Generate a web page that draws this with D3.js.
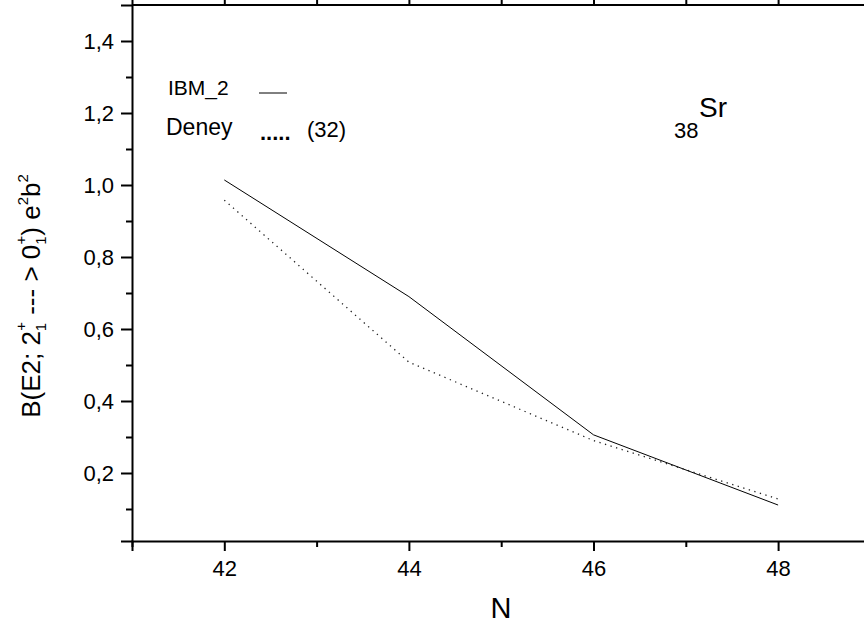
<!DOCTYPE html>
<html>
<head>
<meta charset="utf-8">
<script src="https://cdn.jsdelivr.net/npm/d3@7"></script>
<style>
  html, body { margin: 0; padding: 0; background: #fff; }
  text { font-family: Arial, "Liberation Sans", sans-serif; fill: #000; }
</style>
</head>
<body>
<svg id="chart" width="864" height="628"></svg>
<script>
// ---- data ----
const neutronN = [42, 44, 46, 48];
const ibm2 = [1.014, 0.69, 0.306, 0.111];
const deney = [0.958, 0.508, 0.29, 0.128];
const xMajorTicks = [42, 44, 46, 48];
const xMinorTicks = [41, 43, 45, 47, 49];
const yMajorTicks = [0.2, 0.4, 0.6, 0.8, 1.0, 1.2, 1.4];
const yMinorTicks = [0.1, 0.3, 0.5, 0.7, 0.9, 1.1, 1.3];
const legendLabels = ["IBM_2", "Deney"];

const svg = d3.select("#chart");
const x = d3.scaleLinear().domain([41, 49]).range([132, 870.4]);
const y = d3.scaleLinear().domain([0.0111, 1.5]).range([541, 5]);
const fmt = v => d3.format(".1f")(v).replace(".", ",");

// frame: top border
svg.append("line").attr("x1", x(41)).attr("x2", 864).attr("y1", y(1.5)).attr("y2", y(1.5))
  .attr("stroke", "#000").attr("stroke-width", 2);

// bottom axis
const gx = svg.append("g").attr("transform", `translate(0,${y.range()[0]})`);
gx.call(d3.axisBottom(x).tickValues(xMajorTicks).tickSize(10).tickPadding(9).tickFormat(d3.format("d")));
const gxm = svg.append("g").attr("transform", `translate(0,${y.range()[0]})`);
gxm.call(d3.axisBottom(x).tickValues(xMinorTicks).tickSize(6).tickFormat(""));
// top axis ticks
const gt = svg.append("g").attr("transform", `translate(0,${y.range()[1]})`);
gt.call(d3.axisTop(x).tickValues(xMajorTicks.concat(xMinorTicks)).tickSize(5).tickFormat(""));
gt.select(".domain").remove();

// left axis
const gy = svg.append("g").attr("transform", `translate(${x.range()[0]},0)`);
gy.call(d3.axisLeft(y).tickValues(yMajorTicks).tickSize(11).tickPadding(7).tickFormat(fmt));
const gym = svg.append("g").attr("transform", `translate(${x.range()[0]},0)`);
gym.call(d3.axisLeft(y).tickValues(yMinorTicks).tickSize(6).tickFormat(""));

svg.selectAll(".domain").attr("stroke", "#000").attr("stroke-width", 2);
svg.selectAll(".tick line").attr("stroke", "#000").attr("stroke-width", 2);
svg.selectAll(".tick text").attr("font-size", 22).attr("font-family", "Arial, 'Liberation Sans', sans-serif").attr("fill", "#000");
gym.select(".domain").remove(); gxm.select(".domain").remove();

// lines
const line = d3.line().x((d, i) => x(neutronN[i])).y(d => y(d));
svg.append("path").datum(ibm2).attr("d", line).attr("fill", "none")
  .attr("stroke", "#000").attr("stroke-width", 1);
svg.append("path").datum(deney).attr("d", line).attr("fill", "none")
  .attr("stroke", "#222").attr("stroke-width", 1.3).attr("stroke-dasharray", "1.3,4.5");

// legend
svg.append("text").attr("x", 168).attr("y", 95).attr("font-size", 21).text(legendLabels[0]);
svg.append("line").attr("x1", 259).attr("x2", 287).attr("y1", 93).attr("y2", 93)
  .attr("stroke", "#000").attr("stroke-width", 1);
svg.append("text").attr("x", 166).attr("y", 135).attr("font-size", 23).text(legendLabels[1]);
svg.append("text").attr("x", 260).attr("y", 140).attr("font-size", 22).attr("font-weight", "bold").text(".....");
svg.append("text").attr("x", 307).attr("y", 137).attr("font-size", 22).text("(32)");

// element label
svg.append("text").attr("x", 674).attr("y", 138).attr("font-size", 22).text("38");
svg.append("text").attr("x", 699).attr("y", 117).attr("font-size", 28).text("Sr");

// x title
svg.append("text").attr("x", 501).attr("y", 618).attr("text-anchor", "middle").attr("font-size", 29).text("N");

// y title
const yt = svg.append("text").attr("transform", "translate(40,296) rotate(-90)")
  .attr("text-anchor", "middle").attr("font-size", 26);
yt.append("tspan").text("B(E2; 2");
yt.append("tspan").attr("font-size", 15).attr("dy", 6).text("1");
yt.append("tspan").attr("font-size", 15).attr("dx", -8).attr("dy", -20).text("+");
yt.append("tspan").attr("dy", 14).text(" --- > 0");
yt.append("tspan").attr("font-size", 15).attr("dy", 6).text("1");
yt.append("tspan").attr("font-size", 15).attr("dx", -8).attr("dy", -20).text("+");
yt.append("tspan").attr("dy", 14).text(") e");
yt.append("tspan").attr("font-size", 15).attr("dy", -12).text("2");
yt.append("tspan").attr("dy", 12).text("b");
yt.append("tspan").attr("font-size", 15).attr("dy", -12).text("2");
</script>
</body>
</html>
